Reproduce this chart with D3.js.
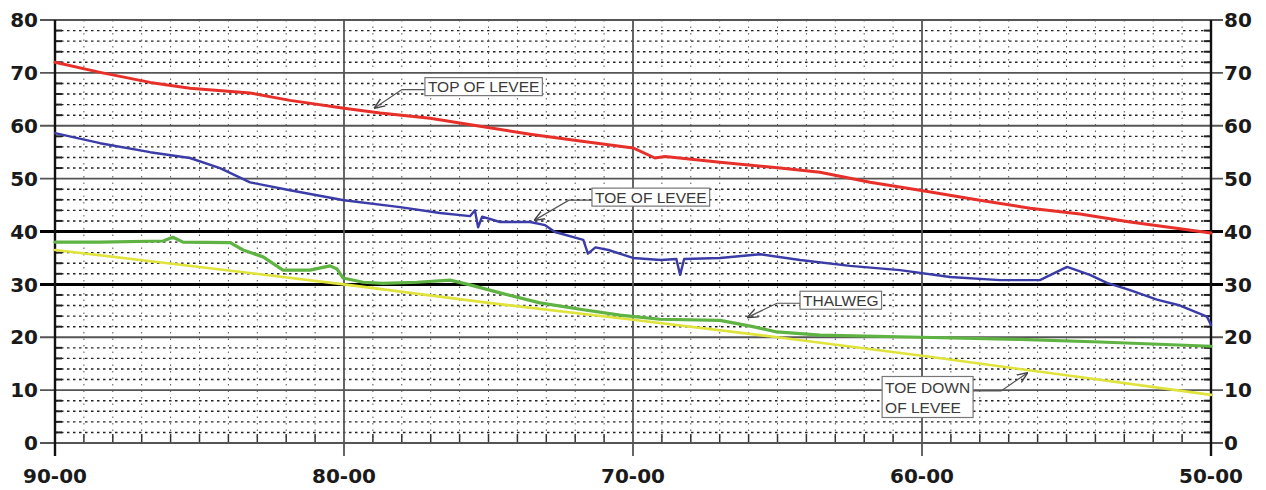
<!DOCTYPE html>
<html><head><meta charset="utf-8">
<script src="https://cdn.jsdelivr.net/npm/d3@7"></script>
<style>html,body{margin:0;padding:0;background:#fff;}svg{display:block;}</style>
</head><body><div id="chart"></div>
<script>
// ---- data ----
const stationTicks = [90, 80, 70, 60, 50];
const stationLabels = ["90-00", "80-00", "70-00", "60-00", "50-00"];
const elevTicks = [0, 10, 20, 30, 40, 50, 60, 70, 80];

const topStations = [90, 88.44, 86.71, 85.33, 83.25, 81.87, 80, 78.75, 77.02, 75.29, 73.56, 71.83, 70, 69.24, 68.89, 66.99, 64.91, 63.53, 61.8, 60.07, 58, 56.26, 54.53, 52.8, 51.07, 50];
const topValues   = [72.0, 70.1, 68.2, 67.1, 66.2, 64.8, 63.3, 62.4, 61.4, 59.9, 58.4, 57.1, 55.8, 53.9, 54.2, 53.1, 52.0, 51.2, 49.3, 47.8, 45.9, 44.4, 43.3, 41.8, 40.5, 39.7];

const toeStations = [90, 88.44, 86.71, 85.33, 84.29, 83.25, 81.87, 80, 78.06, 76.68, 75.64, 75.47, 75.36, 75.22, 74.6, 73.56, 73.04, 72.7, 71.72, 71.56, 71.3, 70.85, 70, 69.03, 68.5, 68.37, 68.23, 66.99, 65.6, 64.22, 62.49, 60.76, 59.03, 57.3, 55.92, 54.98, 54.19, 53.6, 52.8, 51.87, 51.07, 50.14, 50];
const toeValues   = [58.6, 56.7, 55.0, 53.9, 52.0, 49.3, 47.8, 45.9, 44.6, 43.5, 42.9, 44.0, 40.8, 42.8, 41.8, 41.8, 41.2, 39.9, 38.4, 35.8, 37.0, 36.5, 35.0, 34.6, 34.8, 31.8, 34.8, 35.0, 35.7, 34.6, 33.5, 32.7, 31.4, 30.8, 30.8, 33.3, 31.8, 30.3, 28.9, 27.1, 26.0, 23.9, 22.3];

const thalStations = [90, 88.44, 86.26, 85.92, 85.57, 83.94, 83.49, 82.8, 82.11, 81.18, 80.48, 80.24, 80.03, 79.34, 78.65, 77.47, 76.33, 75.64, 74.6, 73.22, 71.83, 70.45, 69.07, 66.99, 65.85, 65.02, 63.53, 60.07, 56.61, 53.84, 50];
const thalValues   = [38.0, 38.0, 38.2, 38.9, 38.0, 37.9, 36.5, 35.2, 32.7, 32.7, 33.5, 32.9, 31.2, 30.4, 30.2, 30.4, 30.8, 29.9, 28.4, 26.5, 25.3, 24.2, 23.4, 23.2, 22.0, 21.0, 20.4, 20.0, 19.6, 19.1, 18.3];

const toeDownStations = [90, 85, 80, 75, 70, 65, 60, 55, 50];
const toeDownValues   = [36.5, 33.3, 30.0, 26.5, 23.3, 20.0, 16.5, 12.8, 9.1];

// annotation anchors in data units: label box left-middle, and arrow tip
const noteTexts    = [["TOP OF LEVEE"], ["TOE OF LEVEE"], ["THALWEG"], ["TOE DOWN", "OF LEVEE"]];
const noteStations = [77.2, 71.42, 64.22, 61.38];
const noteValues   = [67.4, 46.5, 27.0, 8.7];
const tipStations  = [78.93, 73.39, 66.02, 56.37];
const tipValues    = [63.4, 42.2, 23.8, 13.2];

// ---- drawing ----
const W = 1266, H = 490;
const svg = d3.select("#chart").append("svg").attr("width", W).attr("height", H);
const x = d3.scaleLinear().domain([90, 50]).range([55, 1211]);
const y = d3.scaleLinear().domain([0, 80]).range([443, 20]);

const g = svg.append("g");

// minor horizontal dotted grid
const minorElev = d3.range(0, 80.01, 2).filter(v => v % 10 !== 0);
g.selectAll(".mh").data(minorElev).enter().append("line")
  .attr("x1", x(90)).attr("x2", x(50)).attr("y1", d => y(d)).attr("y2", d => y(d))
  .attr("stroke", "#222").attr("stroke-width", 1.4).attr("stroke-dasharray", "2.5,3.5");
// minor vertical dotted grid
const minorSta = d3.range(50, 90.01, 1).filter(v => v % 10 !== 0);
g.selectAll(".mv").data(minorSta).enter().append("line")
  .attr("x1", d => x(d)).attr("x2", d => x(d)).attr("y1", y(80)).attr("y2", y(0))
  .attr("stroke", "#555").attr("stroke-width", 1).attr("stroke-dasharray", "1.5,5");
// bottom station ticks
g.selectAll(".bt").data(minorSta).enter().append("line")
  .attr("x1", d => x(d)).attr("x2", d => x(d)).attr("y1", y(0)).attr("y2", y(0) - 9)
  .attr("stroke", "#333").attr("stroke-width", 1.5);
// axis minor ticks left/right
g.selectAll(".lt").data(minorElev).enter().append("line")
  .attr("x1", x(90)).attr("x2", x(90) + 7).attr("y1", d => y(d)).attr("y2", d => y(d))
  .attr("stroke", "#222").attr("stroke-width", 2);
g.selectAll(".rt").data(minorElev).enter().append("line")
  .attr("x1", x(50) - 7).attr("x2", x(50)).attr("y1", d => y(d)).attr("y2", d => y(d))
  .attr("stroke", "#222").attr("stroke-width", 2);

// major horizontal lines
g.selectAll(".mj").data(elevTicks).enter().append("line")
  .attr("x1", x(90) - 15).attr("x2", x(50) + 12).attr("y1", d => y(d)).attr("y2", d => y(d))
  .attr("stroke", d => (d === 30 || d === 40) ? "#000" : "#555")
  .attr("stroke-width", d => (d === 30 || d === 40) ? 3 : 1.8);
// major vertical lines
g.selectAll(".mjv").data(stationTicks).enter().append("line")
  .attr("x1", d => x(d)).attr("x2", d => x(d)).attr("y1", y(80)).attr("y2", y(0) + 13)
  .attr("stroke", d => (d === 90 || d === 50) ? "#111" : "#555")
  .attr("stroke-width", d => (d === 90 || d === 50) ? 2.4 : 1.8);

// axis labels
const lbl = "DejaVu Sans, sans-serif";
g.selectAll(".yl").data(elevTicks).enter().append("text")
  .attr("x", 38).attr("y", d => y(d)).attr("dy", "0.36em").attr("text-anchor", "end")
  .attr("font-family", lbl).attr("font-weight", "bold").attr("font-size", 20).attr("fill", "#1a1a1a")
  .text(d => d);
g.selectAll(".yr").data(elevTicks).enter().append("text")
  .attr("x", 1224).attr("y", d => y(d)).attr("dy", "0.36em").attr("text-anchor", "start")
  .attr("font-family", lbl).attr("font-weight", "bold").attr("font-size", 20).attr("fill", "#1a1a1a")
  .text(d => d);
g.selectAll(".xl").data(stationTicks).enter().append("text")
  .attr("x", d => x(d)).attr("y", 483).attr("text-anchor", "middle")
  .attr("font-family", lbl).attr("font-weight", "bold").attr("font-size", 20).attr("fill", "#1a1a1a")
  .text((d, i) => stationLabels[i]);

// series
const line = d3.line().x(d => x(d[0])).y(d => y(d[1]));
const series = [
  {s: toeDownStations, v: toeDownValues, c: "#dfe33c", w: 2.6},
  {s: thalStations, v: thalValues, c: "#5fb342", w: 3.2},
  {s: toeStations, v: toeValues, c: "#3b3ca8", w: 2.4},
  {s: topStations, v: topValues, c: "#e8302a", w: 3}
];
series.forEach(sr => {
  g.append("path").datum(sr.s.map((s, i) => [s, sr.v[i]]))
    .attr("d", line).attr("fill", "none").attr("stroke", sr.c)
    .attr("stroke-width", sr.w).attr("stroke-linejoin", "round").attr("stroke-linecap", "round");
});

// annotations
svg.append("defs").append("marker").attr("id", "arr").attr("viewBox", "0 0 10 10")
  .attr("refX", 9).attr("refY", 5).attr("markerWidth", 9).attr("markerHeight", 9)
  .attr("orient", "auto").append("path").attr("d", "M0,1 L10,5 L0,9").attr("fill", "none")
  .attr("stroke", "#444").attr("stroke-width", 1.3);

const annFont = "Liberation Sans, Arial, sans-serif";
noteTexts.forEach((lines, i) => {
  const bx = x(noteStations[i]), by = y(noteValues[i]);
  const tx = x(tipStations[i]), ty = y(tipValues[i]);
  const ag = svg.append("g");
  const fs = 15.5, lh = 20;
  const texts = lines.map((t, k) => ag.append("text")
    .attr("x", bx + 3).attr("y", by + (k - (lines.length - 1) / 2) * lh).attr("dy", "0.36em")
    .attr("font-family", annFont).attr("font-size", fs).attr("fill", "#3a3a3a").text(t));
  const wmax = d3.max(texts, t => t.node().getComputedTextLength());
  const bw = wmax + 6, bh = lines.length * lh - 2 + (lines.length > 1 ? 3 : 0);
  ag.insert("rect", "text").attr("x", bx).attr("y", by - bh / 2).attr("width", bw).attr("height", bh)
    .attr("fill", "#fff").attr("stroke", "#777").attr("stroke-width", 1.2);
  // leader
  const rightSide = tx > bx + bw;
  const sx = rightSide ? bx + bw : bx;
  const ex = rightSide ? sx + 28 : sx - 23;
  const ly = rightSide ? by - 6 : by + 3;
  svg.append("path").attr("d", `M${sx},${ly} L${ex},${ly} L${tx},${ty}`)
    .attr("fill", "none").attr("stroke", "#555").attr("stroke-width", 1.2)
    .attr("marker-end", "url(#arr)");
});
</script></body></html>
